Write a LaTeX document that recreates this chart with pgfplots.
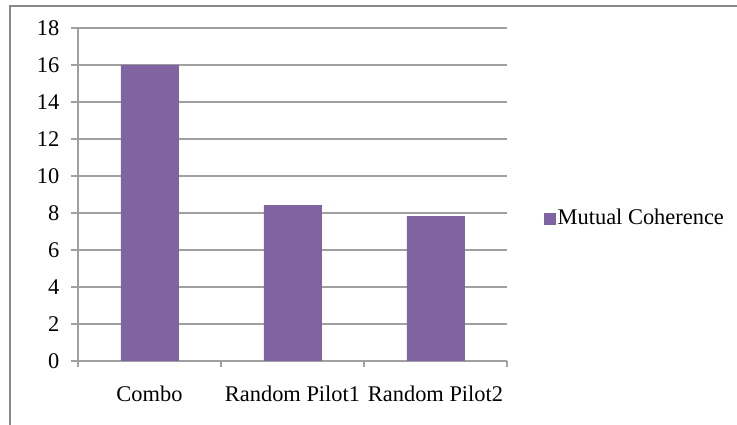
\documentclass[border=0pt]{standalone}
\usepackage{pgfplots}
\pgfplotsset{compat=1.18}
\usepackage{fontspec}
\setmainfont{Liberation Serif}

\definecolor{barpurple}{HTML}{8064A2}
\definecolor{axgray}{HTML}{A0A0A0}
\definecolor{bordergray}{HTML}{888888}

\begin{document}
\fontsize{22.5}{26}\selectfont
\begin{tikzpicture}
  \useasboundingbox (0bp,0bp) rectangle (737bp,425bp);
  % outer chart frame (only left and top visible in the crop)
  \draw[bordergray, line width=2bp] (10bp,0bp) -- (10bp,419bp) -- (737bp,419bp);
  \begin{axis}[
    at={(78bp,64bp)}, anchor=south west,
    scale only axis,
    width=429bp, height=333bp,
    ybar, bar width=0.4,
    xmin=-0.5, xmax=2.5,
    ymin=0, ymax=18,
    ytick={0,2,...,18},
    xtick={0,1,2},
    xticklabels={Combo, Random Pilot1, Random Pilot2},
    minor xtick={-0.5,0.5,1.5,2.5},
    axis x line*=bottom, axis y line*=left,
    axis line style={axgray, line width=1.2bp},
    ymajorgrids,
    grid style={axgray, line width=1.2bp},
    tick align=outside,
    major tick length=7bp, minor tick length=6bp,
    tick style={axgray, line width=1.2bp},
    every major x tick/.append style={draw=none},
    /pgf/number format/assume math mode=true,
    xticklabel style={anchor=north, yshift=-10bp},
    yticklabel style={xshift=-4bp},
    legend style={draw=none, fill=none, at={(1.087,0.428)}, anchor=west,
      inner sep=0pt, outer sep=0pt},
    legend image code/.code={\fill[barpurple] (-3bp,-5.5bp) rectangle (8bp,5.5bp);},
  ]
    \addplot[fill=barpurple, draw=barpurple] coordinates {(0,16) (1,8.4) (2,7.8)};
    \legend{Mutual Coherence}
  \end{axis}
\end{tikzpicture}
\end{document}
